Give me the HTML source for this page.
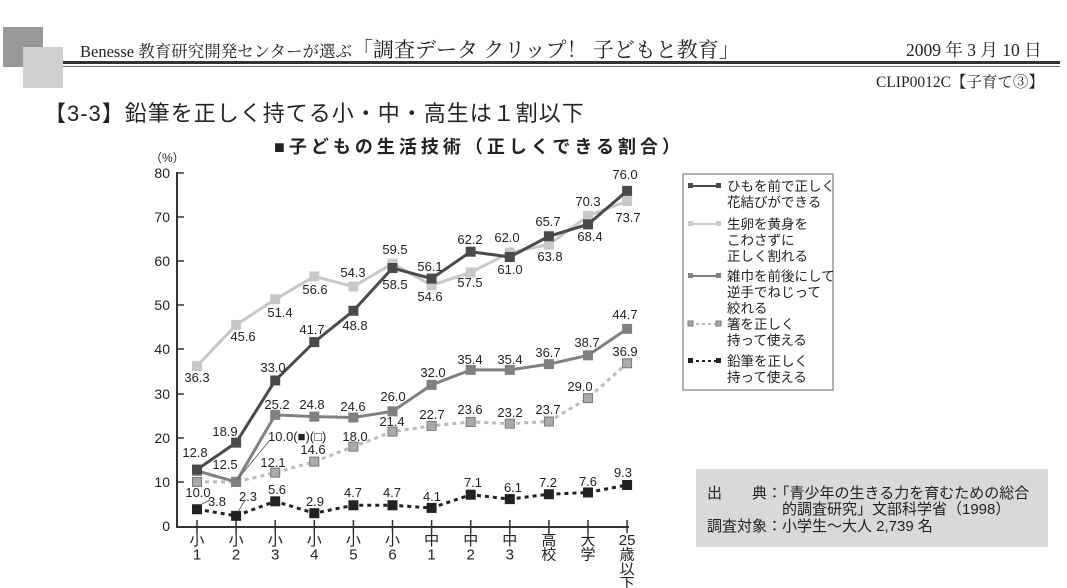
<!DOCTYPE html>
<html><head><meta charset="utf-8"><style>
body{margin:0;width:1067px;height:588px;background:#fff;overflow:hidden;position:relative;font-family:"Liberation Sans","Noto Sans CJK JP",sans-serif;}
.a{position:absolute;white-space:nowrap;}
</style></head><body>
<div class="a" style="left:3px;top:27px;width:40px;height:40px;background:#999;"></div>
<div class="a" style="left:23px;top:47px;width:40px;height:41px;background:#d0d0d0;"></div>
<div class="a" style="left:63px;top:61px;width:997px;height:3px;background:#333;"></div>
<div class="a" style="left:63px;top:66px;width:997px;height:1px;background:#666;"></div>
<div class="a" style="left:80px;top:34px;font-family:'Liberation Serif','Noto Serif CJK SC',serif;font-size:16.5px;color:#222;">Benesse 教育研究開発センターが選ぶ<span style="font-size:21px;">「調査データ クリップ！ 子どもと教育」</span></div>
<div class="a" style="left:906px;top:37px;font-family:'Liberation Serif','Noto Serif CJK SC',serif;font-size:17.5px;color:#222;">2009 年 3 月 10 日</div>
<div class="a" style="left:876px;top:70px;font-family:'Liberation Serif','Noto Serif CJK SC',serif;font-size:15.5px;color:#222;">CLIP0012C【子育て③】</div>
<div class="a" style="left:44px;top:96px;font-size:22px;letter-spacing:1px;color:#222;">【3-3】鉛筆を正しく持てる小・中・高生は１割以下</div>
<div class="a" style="left:274px;top:133px;font-size:18px;font-weight:bold;color:#222;letter-spacing:4px;">■子どもの生活技術（正しくできる割合）</div>
<div class="a" style="left:150px;top:149px;font-size:12px;color:#222;">（%）</div>
<svg class="a" style="left:0;top:0" width="1067" height="588" font-family="Liberation Sans,Noto Sans CJK JP,sans-serif">
<g stroke="#333" stroke-width="2">
<line x1="177" y1="172" x2="177" y2="527"/><line x1="176" y1="527" x2="629" y2="527"/>
</g>
<g font-size="14" fill="#222" text-anchor="end">
<text x="170" y="178">80</text><text x="170" y="222">70</text><text x="170" y="266">60</text><text x="170" y="310">50</text><text x="170" y="354">40</text><text x="170" y="399">30</text><text x="170" y="443">20</text><text x="170" y="487">10</text><text x="170" y="531">0</text>
</g>
<g stroke="#333" stroke-width="1.5">
<line x1="177" y1="173" x2="184" y2="173"/><line x1="177" y1="217" x2="184" y2="217"/><line x1="177" y1="261" x2="184" y2="261"/><line x1="177" y1="305" x2="184" y2="305"/><line x1="177" y1="349" x2="184" y2="349"/><line x1="177" y1="394" x2="184" y2="394"/><line x1="177" y1="438" x2="184" y2="438"/><line x1="177" y1="482" x2="184" y2="482"/>
</g>
<g id="ticks" stroke="#333" stroke-width="1.5"></g>
<g id="series"></g>
<g id="xl" font-size="15" fill="#222" text-anchor="middle"></g>
<g id="labels" font-size="13" fill="#222" text-anchor="middle"></g>
<g stroke="#555" stroke-width="0.8">
<line x1="270" y1="440" x2="237" y2="480"/>
<line x1="210" y1="500" x2="200" y2="505"/>
<line x1="245" y1="500" x2="238" y2="512"/>
</g>
<rect x="683" y="174" width="150" height="216" fill="none" stroke="#666" stroke-width="1"/>
<g font-size="13.5" fill="#222">
<line x1="690" y1="186" x2="719" y2="186" stroke="#4a4a4a" stroke-width="2"/><rect x="688" y="183" width="5" height="5" fill="#4a4a4a"/><rect x="716" y="183" width="5" height="5" fill="#4a4a4a"/>
<text x="727" y="191">ひもを前で正しく</text><text x="727" y="207">花結びができる</text>
<line x1="690" y1="224" x2="719" y2="224" stroke="#ccc" stroke-width="2"/><rect x="688" y="221" width="5" height="5" fill="#ccc"/><rect x="716" y="221" width="5" height="5" fill="#ccc"/>
<text x="727" y="229">生卵を黄身を</text><text x="727" y="245">こわさずに</text><text x="727" y="261">正しく割れる</text>
<line x1="690" y1="276" x2="719" y2="276" stroke="#808080" stroke-width="2"/><rect x="688" y="273" width="5" height="5" fill="#808080"/><rect x="716" y="273" width="5" height="5" fill="#808080"/>
<text x="727" y="281">雑巾を前後にして</text><text x="727" y="297">逆手でねじって</text><text x="727" y="313">絞れる</text>
<line x1="690" y1="324" x2="719" y2="324" stroke="#bbb" stroke-width="2" stroke-dasharray="3,3"/><rect x="688" y="321" width="5" height="5" fill="#aaa" stroke="#777"/><rect x="716" y="321" width="5" height="5" fill="#aaa" stroke="#777"/>
<text x="727" y="329">箸を正しく</text><text x="727" y="345">持って使える</text>
<line x1="690" y1="361" x2="719" y2="361" stroke="#222" stroke-width="2" stroke-dasharray="3,3"/><rect x="688" y="358" width="5" height="5" fill="#222"/><rect x="716" y="358" width="5" height="5" fill="#222"/>
<text x="727" y="366">鉛筆を正しく</text><text x="727" y="382">持って使える</text>
</g>
<rect x="696" y="469" width="352" height="78" fill="#d9d9d9"/>
<g font-size="15" fill="#222">
<text x="707" y="498">出　　典：「青少年の生きる力を育むための総合</text>
<text x="782" y="514">的調査研究」文部科学省（1998）</text>
<text x="707" y="531">調査対象：小学生～大人 2,739 名</text>
</g>
</svg>
<script>
const ns="http://www.w3.org/2000/svg";
const X=i=>197+i*39.1, Y=v=>526-v*4.41;
function el(p,t,a,txt){const e=document.createElementNS(ns,t);for(const k in a)e.setAttribute(k,a[k]);if(txt!==undefined)e.textContent=txt;document.getElementById(p).appendChild(e);return e;}
const xl=[["小","1"],["小","2"],["小","3"],["小","4"],["小","5"],["小","6"],["中","1"],["中","2"],["中","3"],["高","校"],["大","学"],["25","歳","以","下"]];
xl.forEach((l,i)=>{el("ticks","line",{x1:X(i),y1:520,x2:X(i),y2:533});l.forEach((c,j)=>el("xl","text",{x:X(i),y:545+j*14.5},c));});
const S=[
{d:[10.0,10.0,12.1,14.6,18.0,21.4,22.7,23.6,23.2,23.7,29.0,36.9],c:"#bbb",f:"#aaa",s:"#777",dash:"4,4"},
{d:[3.8,2.3,5.6,2.9,4.7,4.7,4.1,7.1,6.1,7.2,7.6,9.3],c:"#222",f:"#222",s:"#222",dash:"4,4"},
{d:[36.3,45.6,51.4,56.6,54.3,59.5,54.6,57.5,62.0,63.8,70.3,73.7],c:"#c8c8c8",f:"#c8c8c8",s:"#c8c8c8"},
{d:[12.5,10.0,25.2,24.8,24.6,26.0,32.0,35.4,35.4,36.7,38.7,44.7],c:"#808080",f:"#808080",s:"#808080"},
{d:[12.8,18.9,33.0,41.7,48.8,58.5,56.1,62.2,61.0,65.7,68.4,76.0],c:"#4a4a4a",f:"#4a4a4a",s:"#4a4a4a"}];
S.forEach(s=>{const pts=s.d.map((v,i)=>X(i)+","+Y(v)).join(" ");const a={points:pts,fill:"none",stroke:s.c,"stroke-width":3};if(s.dash)a["stroke-dasharray"]=s.dash;el("series","polyline",a);
s.d.forEach((v,i)=>el("series","rect",{x:X(i)-4.5,y:Y(v)-4.5,width:9,height:9,fill:s.f,stroke:s.s,"stroke-width":1}));});
const L=[["12.8",195,457],["18.9",225,436],["33.0",273,372],["41.7",312,334],["48.8",355,330],["58.5",395,289],["56.1",430,271],["62.2",470,244],["61.0",510,274],["65.7",548,226],["68.4",590,241],["76.0",625,179],
["36.3",197,382],["45.6",243,341],["51.4",280,317],["56.6",315,294],["54.3",353,277],["59.5",395,254],["54.6",430,301],["57.5",470,287],["62.0",507,242],["63.8",550,261],["70.3",588,206],["73.7",628,222],
["12.5",225,469],["25.2",277,409],["24.8",312,409],["24.6",353,411],["26.0",393,401],["32.0",433,377],["35.4",470,364],["35.4",510,364],["36.7",548,357],["38.7",587,347],["44.7",625,319],
["12.1",273,467],["14.6",313,454],["18.0",355,441],["21.4",392,426],["22.7",432,419],["23.6",470,414],["23.2",510,417],["23.7",548,414],["29.0",580,391],["36.9",625,356],
["10.0",198,497],["3.8",217,506],["2.3",248,501],["5.6",277,494],["2.9",315,506],["4.7",353,497],["4.7",392,497],["4.1",432,501],["7.1",473,487],["6.1",513,492],["7.2",548,487],["7.6",588,486],["9.3",623,477]];
L.forEach(l=>el("labels","text",{x:l[1],y:l[2]},l[0]));
el("labels","text",{x:268,y:441,"text-anchor":"start"},"10.0(■)(□)");
</script>
</body></html>
